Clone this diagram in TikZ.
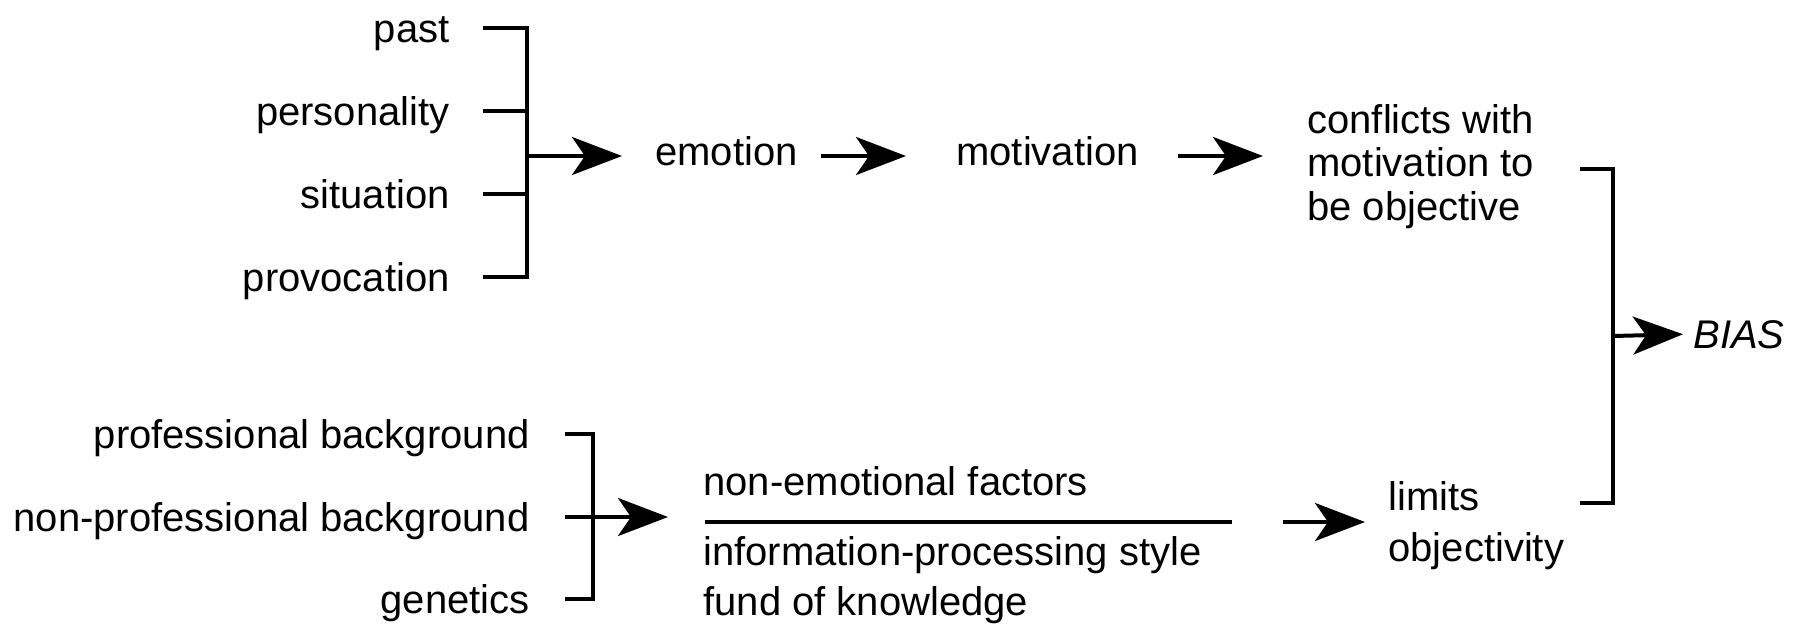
\documentclass[tikz,border=0pt]{standalone}
\usepackage{fontspec}
\setmainfont{Liberation Sans}
\usetikzlibrary{arrows.meta}
\begin{document}
\begin{tikzpicture}[x=0.5pt,y=-0.5pt,
  every node/.style={inner sep=0pt, font=\fontsize{20}{24}\selectfont},
  lbl/.style={text height=16pt, text depth=2pt},
  flow/.style={text height=14pt, text depth=5pt},
  br/.style={line width=2pt},
  arr/.style={line width=2pt, -{Stealth[length=25pt,width=19pt,inset=6.5pt]}}]
\useasboundingbox (0,0) rectangle (1796,623);
% top inputs
\node[lbl, anchor=east] (past) at (450,28) {past};
\node[lbl, anchor=east] (pers) at (450,111) {personality};
\node[lbl, anchor=east] (sit) at (450,194) {situation};
\node[lbl, anchor=east] (prov) at (450,277) {provocation};
\coordinate (tbx) at (527,156);
\draw[br] ([xshift=16.5pt]past.east) -- (past.east -| tbx) -- (prov.east -| tbx) -- ([xshift=16.5pt]prov.east);
\draw[br] ([xshift=16.5pt]pers.east) -- (pers.east -| tbx);
\draw[br] ([xshift=16.5pt]sit.east) -- (sit.east -| tbx);
% top flow
\node[flow, anchor=west] (emotion) at (655,156) {emotion};
\node[flow, anchor=west] (motivation) at (956,156) {motivation};
\draw[arr, shorten >=16.5pt] (tbx) -- (emotion.west);
\draw[arr, shorten <=11.5pt, shorten >=25pt] (emotion.east) -- (motivation.west);
\node[anchor=base west] (c1) at (1307,133) {conflicts with};
\node[anchor=base west] (c2) at (1307,176) {motivation to};
\node[anchor=base west] (c3) at (1307,220) {be objective};
\draw[arr, shorten <=19.5pt, shorten >=22pt] (motivation.east) -- (motivation.east -| c1.west);
% lower inputs
\node[lbl, anchor=east] (pb) at (530,434) {professional background};
\node[lbl, anchor=east] (npb) at (530,517) {non-professional background};
\node[lbl, anchor=east] (gen) at (530,599) {genetics};
\coordinate (lbx) at (593,517);
\draw[br] ([xshift=17.5pt]pb.east) -- (pb.east -| lbx) -- (gen.east -| lbx) -- ([xshift=17.5pt]gen.east);
\coordinate (rl) at (705,522);
\coordinate (rr) at (1232,522);
\draw[arr, shorten >=18.5pt] ([xshift=17.5pt]npb.east) -- (npb.east -| rl);
\draw[br] (rl) -- (rr);
\node[anchor=base west] (nef) at (703,495) {non-emotional factors};
\node[anchor=base west] (ips) at (703,565) {information-processing style};
\node[anchor=base west] (fok) at (703,615) {fund of knowledge};
\node[anchor=base west] (l1) at (1388,510) {limits};
\node[anchor=base west] (l2) at (1388,561) {objectivity};
\draw[arr, shorten <=25.5pt, shorten >=11.5pt] (rr) -- (rr -| l1.west);
% right bracket
\coordinate (rbt) at (1580,169);
\coordinate (rbb) at (1580,503);
\coordinate (rbx) at (1613,336);
\draw[br] (rbt) -- (rbt -| rbx) -- (rbb -| rbx) -- (rbb);
\node[lbl, anchor=west, font=\fontsize{20}{24}\selectfont\itshape] (bias) at (1693,334) {BIAS};
\draw[arr, shorten >=5pt] (rbx) -- (bias.west);
\end{tikzpicture}
\end{document}
